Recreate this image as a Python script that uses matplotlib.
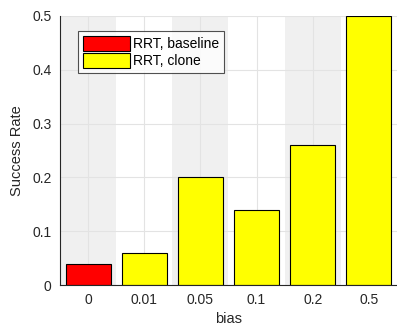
import numpy as np
import matplotlib.pyplot as plt
from matplotlib.patches import Patch

plt.rcParams['font.family'] = ['Liberation Sans', 'DejaVu Sans']

# success rate per goal bias
bias_labels = ['0', '0.01', '0.05', '0.1', '0.2', '0.5']
success = [0.04, 0.06, 0.20, 0.14, 0.26, 0.50]
bar_colors = ['#ff0000', '#ffff00', '#ffff00', '#ffff00', '#ffff00', '#ffff00']
y_ticks = [0, 0.1, 0.2, 0.3, 0.4, 0.5]

x = np.arange(1, len(bias_labels) + 1)

fig = plt.figure(figsize=(3.97, 3.33), dpi=100)
ax = fig.add_axes([0.151, 0.144, 0.849, 0.808])

# alternating background bands
for i in range(0, len(x), 2):
    ax.axvspan(x[i] - 0.5, x[i] + 0.5, color='#f0f0f0', zorder=0, lw=0)

ax.grid(True, color='#e3e3e3', lw=0.8, zorder=0.5)
ax.set_axisbelow(True)

ax.bar(x, success, width=0.8, color=bar_colors, edgecolor='black', lw=0.8, zorder=2)

ax.set_xlim(0.5, 6.5)
ax.set_ylim(0, 0.5)
ax.set_xticks(x)
ax.set_xticklabels(bias_labels)
ax.set_yticks(y_ticks)
ax.set_yticklabels(['0', '0.1', '0.2', '0.3', '0.4', '0.5'])
ax.tick_params(colors='#262626', labelsize=10, length=0, pad=6)
for side in ['top', 'right']:
    ax.spines[side].set_visible(False)
for side in ['left', 'bottom']:
    ax.spines[side].set_color('#262626')
    ax.spines[side].set_linewidth(0.8)

ax.set_xlabel('bias', fontsize=10.5, color='#262626', labelpad=3)
ax.set_ylabel('Success Rate', fontsize=10.5, color='#262626', labelpad=6)

handles = [Patch(facecolor='#ff0000', edgecolor='black', lw=0.8, label='RRT, baseline'),
           Patch(facecolor='#ffff00', edgecolor='black', lw=0.8, label='RRT, clone')]
leg = ax.legend(handles=handles, loc='upper left', bbox_to_anchor=(0.053, 0.945),
                fontsize=10, frameon=True, fancybox=False, handlelength=3.4,
                handleheight=1.35, handletextpad=0.25, borderpad=0.35, labelspacing=0.12,
                borderaxespad=0)
leg.get_frame().set_edgecolor('#262626')
leg.get_frame().set_linewidth(0.8)

fig.savefig('out.png', dpi=100)
